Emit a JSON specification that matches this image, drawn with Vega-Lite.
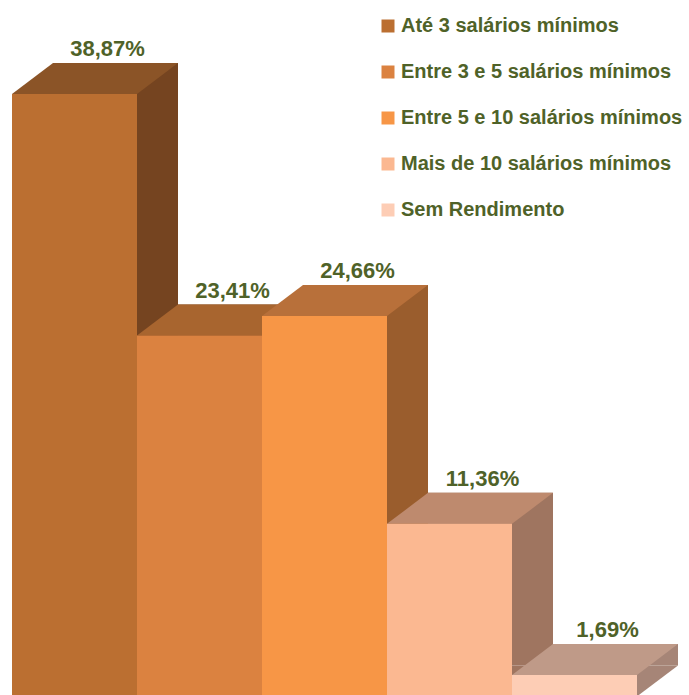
{
  "$schema": "https://vega.github.io/schema/vega-lite/v6.json",
  "width": 689,
  "height": 695,
  "padding": 0,
  "autosize": {"type": "none"},
  "background": "white",
  "config": {"view": {"stroke": null}},
  "data": {
    "values": [
      {"cat": "Até 3 salários mínimos", "value": 38.87, "label": "38,87%"},
      {"cat": "Entre 3 e 5 salários mínimos", "value": 23.41, "label": "23,41%"},
      {"cat": "Entre 5 e 10 salários mínimos", "value": 24.66, "label": "24,66%"},
      {"cat": "Mais de 10 salários mínimos", "value": 11.36, "label": "11,36%"},
      {"cat": "Sem Rendimento", "value": 1.69, "label": "1,69%"}
    ]
  },
  "encoding": {
    "x": {"field": "cat", "type": "nominal", "sort": null, "axis": null,
          "scale": {"range": [12, 637], "paddingInner": 0, "paddingOuter": 0}},
    "y": {"field": "value", "type": "quantitative", "axis": null,
          "scale": {"domain": [0, 44.88], "range": [701.4, 0], "nice": false, "zero": true}}
  },
  "layer": [
    {
      "mark": {"type": "bar", "xOffset": 41, "yOffset": -31, "y2Offset": -36},
      "encoding": {
        "y2": {"datum": 0},
        "fill": {"field": "cat", "type": "nominal", "sort": null, "legend": null,
                 "scale": {"range": ["#754420", "#7b4a22", "#9a5d2d", "#9f7560", "#a68577"]}}
      }
    },
    {
      "mark": {"type": "point", "filled": true, "opacity": 1, "size": 4, "strokeWidth": 0,
               "shape": "M62.5,-5L103.5,-36L62.5,-36Z"},
      "encoding": {
        "y": {"datum": 0},
        "fill": {"field": "cat", "type": "nominal", "sort": null, "legend": null,
                 "scale": {"range": ["#754420", "#7b4a22", "#9a5d2d", "#9f7560", "#a68577"]}}
      }
    },
    {
      "mark": {"type": "point", "filled": true, "opacity": 1, "size": 4, "strokeWidth": 0,
               "shape": "M-62.5,0L62.5,0L103.5,-31L-21.5,-31Z"},
      "encoding": {
        "fill": {"field": "cat", "type": "nominal", "sort": null, "legend": null,
                 "scale": {"range": ["#8b5427", "#a8652f", "#b8703a", "#be8a6e", "#bf9a88"]}}
      }
    },
    {
      "mark": {"type": "bar"},
      "encoding": {
        "y2": {"datum": 0},
        "fill": {"field": "cat", "type": "nominal", "sort": null,
                 "scale": {"range": ["#bb6f31", "#db8240", "#f79646", "#fbb891", "#fdcdb5"]},
                 "legend": {
                   "title": null, "orient": "none", "legendX": 378, "legendY": 16,
                   "symbolType": "square", "symbolSize": 169, "symbolStrokeWidth": 0,
                   "labelFont": "Liberation Sans", "labelFontSize": 20, "labelFontWeight": "bold",
                   "labelColor": "#4f6228", "labelOffset": 3, "rowPadding": 26, "labelLimit": 0
                 }}
      }
    },
    {
      "mark": {"type": "text", "dx": 33, "dy": -38, "baseline": "alphabetic", "align": "center",
               "font": "Liberation Sans", "fontSize": 22, "fontWeight": "bold", "fill": "#4f6228"},
      "encoding": {"text": {"field": "label"}}
    }
  ],
  "resolve": {"scale": {"fill": "independent"}}
}
